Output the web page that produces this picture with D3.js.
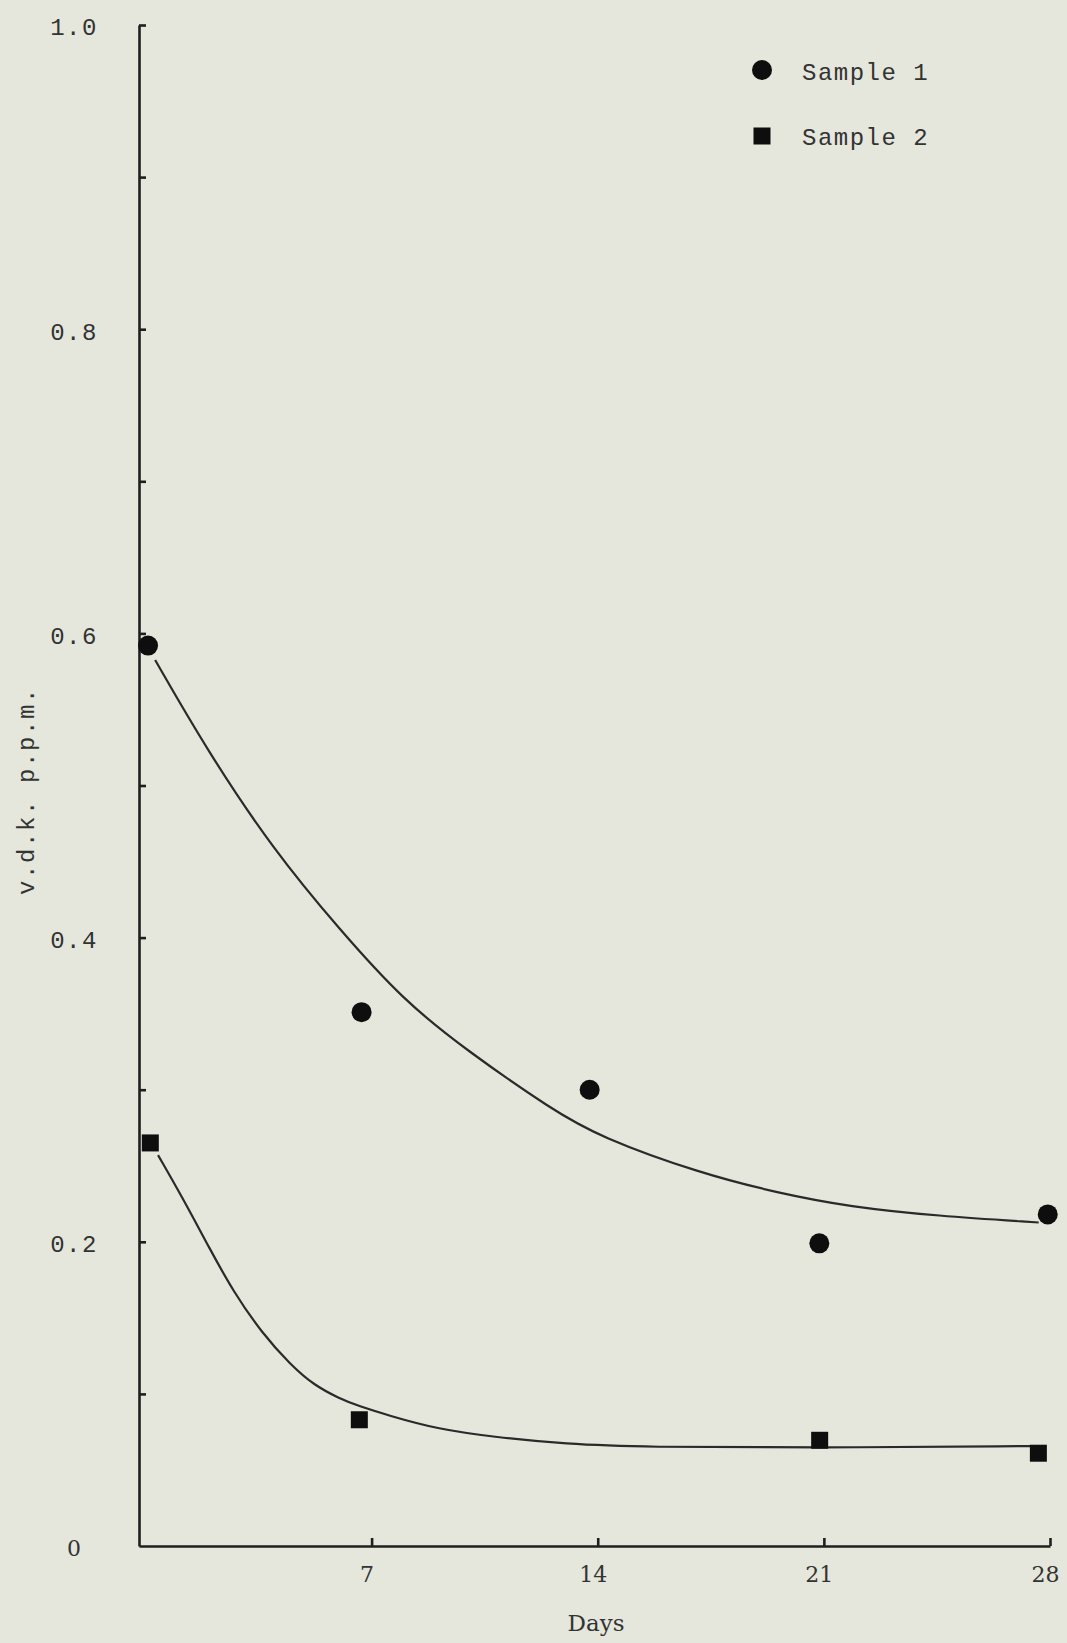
<!DOCTYPE html>
<html>
<head>
<meta charset="utf-8">
<script src="https://cdn.jsdelivr.net/npm/d3@7"></script>
<style>
  html, body { margin: 0; padding: 0; background: #e5e7dc; }
  svg { display: block; }
</style>
</head>
<body>
<svg id="chart" width="1067" height="1643"></svg>
<script>
// ---- data ----
const sample1Days = [0.08, 6.69, 13.75, 20.86, 27.93];
const sample1Vals = [0.592, 0.351, 0.300, 0.199, 0.218];
const sample2Days = [0.15, 6.62, 20.87, 27.64];
const sample2Vals = [0.265, 0.083, 0.0695, 0.061];

// hand-drawn smoothing curves
const curve1Days = [0.3, 1.9, 3.96, 6.02, 7.97, 9.93, 12.6, 14.06, 17.15, 19.6, 21.8, 24.5, 27.65];
const curve1Vals = [0.5825, 0.5234, 0.4576, 0.405, 0.359, 0.326, 0.2867, 0.269, 0.2452, 0.232, 0.223, 0.217, 0.2127];
const curve2Days = [0.39, 1.2, 2.0, 2.7, 3.6, 4.5, 5.2, 6.0, 6.6, 7.5, 9.0, 10.84, 13.0, 15.4, 20.7, 27.5];
const curve2Vals = [0.257, 0.227, 0.195, 0.168, 0.140, 0.119, 0.106, 0.097, 0.092, 0.086, 0.077, 0.0715, 0.067, 0.065, 0.0646, 0.0657];

const yTickValues = [0.1, 0.2, 0.3, 0.4, 0.5, 0.6, 0.7, 0.8, 0.9, 1.0];
const yLabelValues = [0, 0.2, 0.4, 0.6, 0.8, 1.0];
const yLabelTexts = ["0", "0.2", "0.4", "0.6", "0.8", "1.0"];
const xTickValues = [7, 14, 21, 28];
const xTickLabels = ["7", "14", "21", "28"];
const seriesNames = ["Sample 1", "Sample 2"];
const xTitle = "Days";
const yTitle = "v.d.k. p.p.m.";

// ---- layout ----
const svg = d3.select("#chart");
const ink = "#1f1f1f";
const textInk = "#333333";
const typeFont = "'Liberation Mono', 'DejaVu Sans Mono', monospace";
const serifFont = "'DejaVu Serif', 'Liberation Serif', serif";

const x = d3.scaleLinear().domain([-0.2, 28]).range([139, 1050]);
const y = d3.scaleLinear().domain([0, 1]).range([1546, 25]);

// y axis: inward ticks, labels drawn separately
const yAxis = d3.axisLeft(y).tickValues(yTickValues).tickSizeInner(-7).tickSizeOuter(0).tickFormat("");
const gy = svg.append("g").attr("transform", `translate(${x(-0.2)},0)`).call(yAxis);
gy.select(".domain").attr("stroke", ink).attr("stroke-width", 2.6);
gy.selectAll(".tick line").attr("stroke", ink).attr("stroke-width", 2.6);

// x axis
const xAxis = d3.axisBottom(x).tickValues(xTickValues).tickSizeInner(-8).tickSizeOuter(0)
  .tickFormat((d, i) => xTickLabels[i]);
const gx = svg.append("g").attr("transform", `translate(0,${y(0)})`).call(xAxis);
gx.select(".domain").attr("stroke", ink).attr("stroke-width", 2.6);
gx.selectAll(".tick line").attr("stroke", ink).attr("stroke-width", 2.6);
gx.selectAll(".tick text")
  .attr("y", 28).attr("dy", "0.35em").attr("x", -5)
  .attr("font-family", serifFont).attr("font-size", 22).attr("fill", textInk);

// y labels
svg.append("g").selectAll("text").data(yLabelValues).join("text")
  .attr("x", 74)
  .attr("y", d => y(d) + 2)
  .attr("dy", "0.35em")
  .attr("text-anchor", "middle")
  .attr("font-family", d => d === 0 ? serifFont : typeFont)
  .attr("font-size", d => d === 0 ? 22 : 24)
  .attr("letter-spacing", d => d === 0 ? 0 : 1.5)
  .attr("fill", textInk)
  .text((d, i) => yLabelTexts[i]);

// axis titles
svg.append("text")
  .attr("x", 596).attr("y", 1631)
  .attr("text-anchor", "middle")
  .attr("font-family", serifFont).attr("font-size", 23)
  .attr("fill", textInk).text(xTitle);

svg.append("text")
  .attr("transform", "translate(26,791) rotate(-90)")
  .attr("text-anchor", "middle").attr("dy", "0.35em")
  .attr("font-family", typeFont).attr("font-size", 24).attr("letter-spacing", 1.6)
  .attr("fill", textInk).text(yTitle);

// curves
const line = d3.line().x(d => x(d[0])).y(d => y(d[1])).curve(d3.curveBasis);
svg.append("path")
  .datum(curve1Days.map((d, i) => [d, curve1Vals[i]]))
  .attr("d", line).attr("fill", "none").attr("stroke", "#2a2a2a").attr("stroke-width", 2.2);
svg.append("path")
  .datum(curve2Days.map((d, i) => [d, curve2Vals[i]]))
  .attr("d", line).attr("fill", "none").attr("stroke", "#2a2a2a").attr("stroke-width", 2.2);

// points
svg.append("g").selectAll("circle")
  .data(sample1Days.map((d, i) => [d, sample1Vals[i]])).join("circle")
  .attr("cx", d => x(d[0])).attr("cy", d => y(d[1])).attr("r", 10)
  .attr("fill", "#0e0e0e");

const sq = 17;
svg.append("g").selectAll("rect")
  .data(sample2Days.map((d, i) => [d, sample2Vals[i]])).join("rect")
  .attr("x", d => x(d[0]) - sq / 2).attr("y", d => y(d[1]) - sq / 2)
  .attr("width", sq).attr("height", sq)
  .attr("fill", "#0e0e0e");

// legend
const lg = svg.append("g");
lg.append("circle").attr("cx", 762).attr("cy", 70).attr("r", 10).attr("fill", "#0e0e0e");
lg.append("rect").attr("x", 762 - 8.5).attr("y", 136 - 8.5).attr("width", 17).attr("height", 17).attr("fill", "#0e0e0e");
lg.selectAll("text.lab").data(seriesNames).join("text")
  .attr("class", "lab")
  .attr("x", 802).attr("y", (d, i) => i === 0 ? 72 : 137)
  .attr("dy", "0.35em")
  .attr("font-family", typeFont).attr("font-size", 24).attr("letter-spacing", 1.5)
  .attr("fill", textInk).text(d => d);
</script>
</body>
</html>
